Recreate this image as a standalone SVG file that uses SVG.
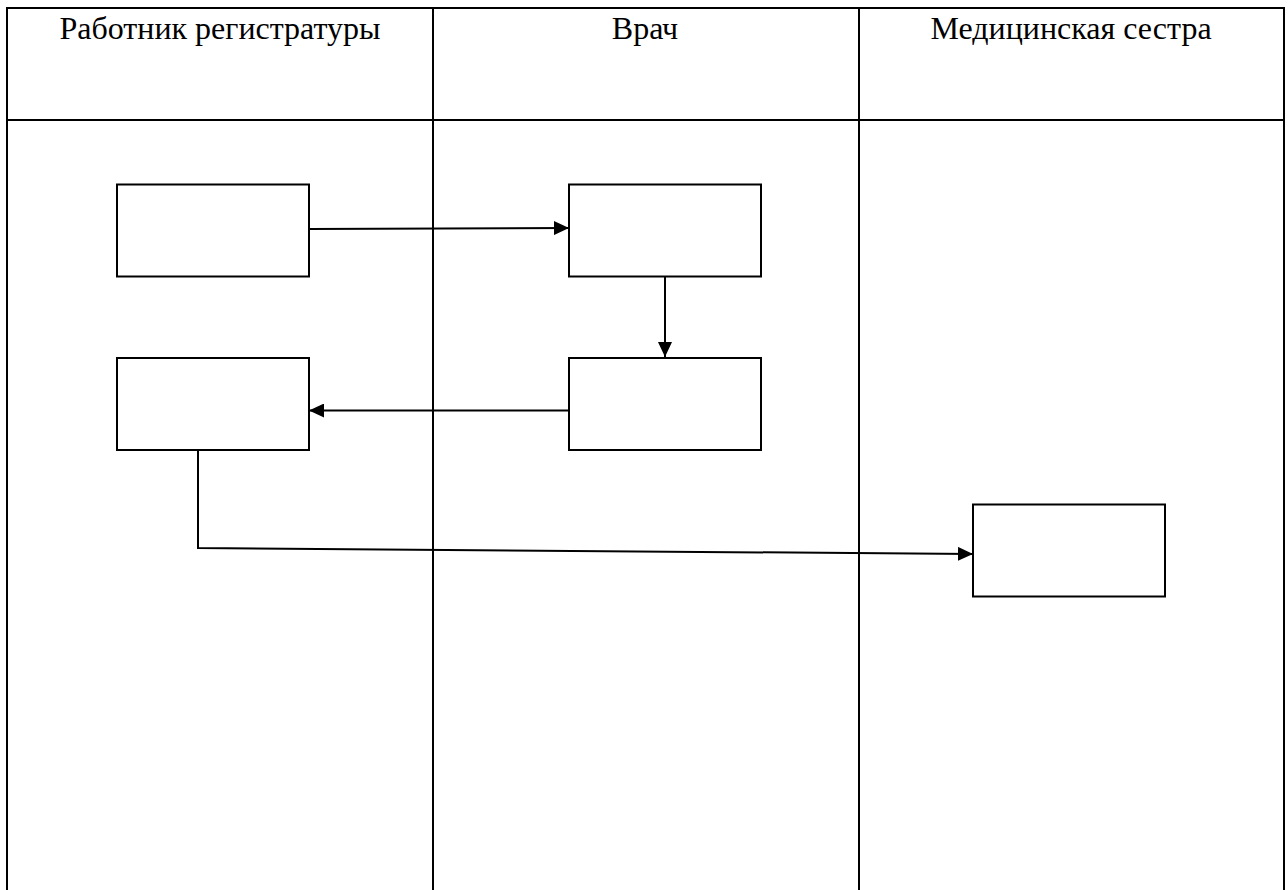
<svg xmlns="http://www.w3.org/2000/svg" width="1288" height="890" viewBox="0 0 1288 890">
<style>
.grid{stroke:#000;stroke-width:2;fill:none}
.hdr{font-family:"Liberation Serif","Times New Roman",serif;font-size:32px;fill:#000;text-anchor:middle}
.box{fill:#fff;stroke:#000;stroke-width:2}
.con{fill:none;stroke:#000;stroke-width:2}
</style>
<defs>
<marker id="ah" viewBox="0 0 15 14" refX="15" refY="7" markerWidth="15" markerHeight="14" markerUnits="userSpaceOnUse" orient="auto">
<path d="M0,0 L15,7 L0,14 Z" fill="#000"/>
</marker>
</defs>
<rect width="1288" height="890" fill="#fff"/>
<g id="table">
<path class="grid" d="M7,890 V8 H1284 V890 M433,8 V890 M859,8 V890 M7,120 H1284"/>
<text class="hdr" x="220" y="39">Работник регистратуры</text>
<text class="hdr" x="645" y="39">Врач</text>
<text class="hdr" x="1071" y="39">Медицинская сестра</text>
</g>
<g id="connectors">
<path class="con" d="M309,229 L569,228" marker-end="url(#ah)"/>
<path class="con" d="M665,276 L665,357" marker-end="url(#ah)"/>
<path class="con" d="M569,410.5 L309,410.5" marker-end="url(#ah)"/>
<path class="con" d="M198,450 L198,548 L973,554" marker-end="url(#ah)"/>
</g>
<g id="n1"><rect class="box" x="117" y="184.5" width="192" height="92"/></g>
<g id="n2"><rect class="box" x="569" y="184.5" width="192" height="92"/></g>
<g id="n3"><rect class="box" x="569" y="358" width="192" height="92"/></g>
<g id="n4"><rect class="box" x="117" y="358" width="192" height="92"/></g>
<g id="n5"><rect class="box" x="973" y="504.5" width="192" height="92"/></g>
</svg>
